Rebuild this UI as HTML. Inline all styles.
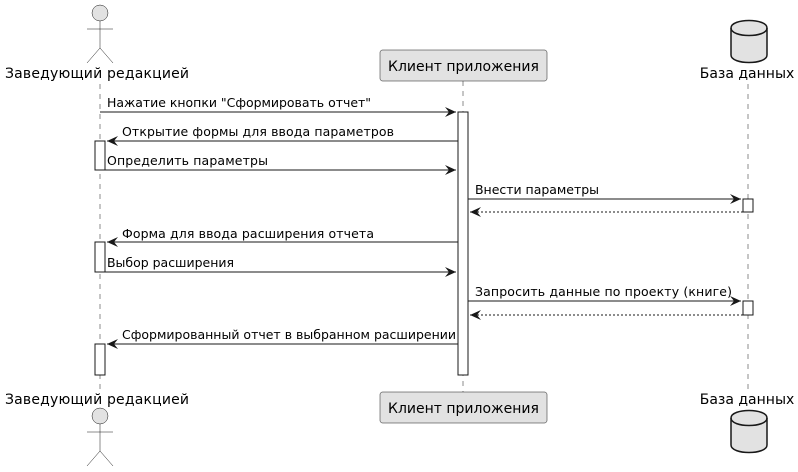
<!DOCTYPE html>
<html><head><meta charset="utf-8"><style>html,body{margin:0;padding:0;background:#fff}svg{display:block}</style></head>
<body>
<svg width="798" height="472" viewBox="0 0 798 472" xmlns="http://www.w3.org/2000/svg" font-family="'DejaVu Sans',sans-serif" font-size="12.5">
<defs><marker id="a" markerWidth="12" markerHeight="10" refX="11" refY="5" orient="auto" markerUnits="userSpaceOnUse"><path d="M0,0 L11,5 L0,10 L4,5 Z" fill="#181818"/></marker></defs>
<g stroke="#181818" stroke-width="0.5" stroke-dasharray="5,5">
<line x1="100" y1="84" x2="100" y2="392"/>
<line x1="463" y1="81" x2="463" y2="392"/>
<line x1="748" y1="84" x2="748" y2="392"/>
</g>
<g stroke="#181818" fill="#e2e2e2" stroke-width="0.5">
<circle cx="100" cy="13" r="8"/>
<line x1="100" y1="21" x2="100" y2="48"/><line x1="87" y1="29" x2="113" y2="29"/>
<line x1="100" y1="48" x2="87" y2="63"/><line x1="100" y1="48" x2="113" y2="63"/>
<circle cx="100" cy="416" r="8"/>
<line x1="100" y1="424" x2="100" y2="451"/><line x1="87" y1="432" x2="113" y2="432"/>
<line x1="100" y1="451" x2="87" y2="466"/><line x1="100" y1="451" x2="113" y2="466"/>
</g>
<g font-size="14">
<text x="97" y="78" text-anchor="middle" textLength="184">Заведующий редакцией</text>
<text x="97" y="404" text-anchor="middle" textLength="184">Заведующий редакцией</text>
</g>
<rect x="380" y="50" width="167" height="31" rx="2.5" fill="#e2e2e2" stroke="#181818" stroke-width="0.5"/>
<text x="463.5" y="71" text-anchor="middle" font-size="14">Клиент приложения</text>
<rect x="380" y="392" width="167" height="31" rx="2.5" fill="#e2e2e2" stroke="#181818" stroke-width="0.5"/>
<text x="463.5" y="413" text-anchor="middle" font-size="14">Клиент приложения</text>
<g fill="#e2e2e2" stroke="#181818" stroke-width="1.5">
<path d="M731,28 C731,18 767,18 767,28 L767,55 C767,65 731,65 731,55 Z"/>
<path d="M731,28 C731,38 767,38 767,28" fill="none"/>
<path d="M731,418 C731,408 767,408 767,418 L767,445 C767,455 731,455 731,445 Z"/>
<path d="M731,418 C731,428 767,428 767,418" fill="none"/>
</g>
<text x="747" y="78" text-anchor="middle" font-size="14">База данных</text>
<text x="747" y="404" text-anchor="middle" font-size="14">База данных</text>
<g fill="#fff" stroke="#181818" stroke-width="1">
<rect x="458" y="112" width="10" height="263"/>
<rect x="95" y="141" width="10" height="29"/>
<rect x="95" y="242" width="10" height="30"/>
<rect x="95" y="344" width="10" height="31"/>
<rect x="743" y="199" width="10" height="13"/>
<rect x="743" y="301" width="10" height="14"/>
</g>
<g stroke="#181818" stroke-width="1" fill="none">
<line x1="100" y1="112" x2="456" y2="112" marker-end="url(#a)"/>
<line x1="458" y1="141" x2="107" y2="141" marker-end="url(#a)"/>
<line x1="105" y1="170" x2="456" y2="170" marker-end="url(#a)"/>
<line x1="468" y1="199" x2="741" y2="199" marker-end="url(#a)"/>
<line x1="743" y1="212" x2="470" y2="212" stroke-dasharray="2,2" marker-end="url(#a)"/>
<line x1="458" y1="242" x2="107" y2="242" marker-end="url(#a)"/>
<line x1="105" y1="272" x2="456" y2="272" marker-end="url(#a)"/>
<line x1="468" y1="301" x2="741" y2="301" marker-end="url(#a)"/>
<line x1="743" y1="315" x2="470" y2="315" stroke-dasharray="2,2" marker-end="url(#a)"/>
<line x1="458" y1="344" x2="107" y2="344" marker-end="url(#a)"/>
</g>
<g fill="#000">
<text x="107" y="107" textLength="264">Нажатие кнопки "Сформировать отчет"</text>
<text x="122" y="136" textLength="272">Открытие формы для ввода параметров</text>
<text x="107" y="165" textLength="161">Определить параметры</text>
<text x="475" y="194" textLength="124">Внести параметры</text>
<text x="122" y="238" textLength="252">Форма для ввода расширения отчета</text>
<text x="107" y="267" textLength="127">Выбор расширения</text>
<text x="475" y="296" textLength="257">Запросить данные по проекту (книге)</text>
<text x="122" y="339" textLength="334">Сформированный отчет в выбранном расширении</text>
</g>
</svg>
</body></html>
